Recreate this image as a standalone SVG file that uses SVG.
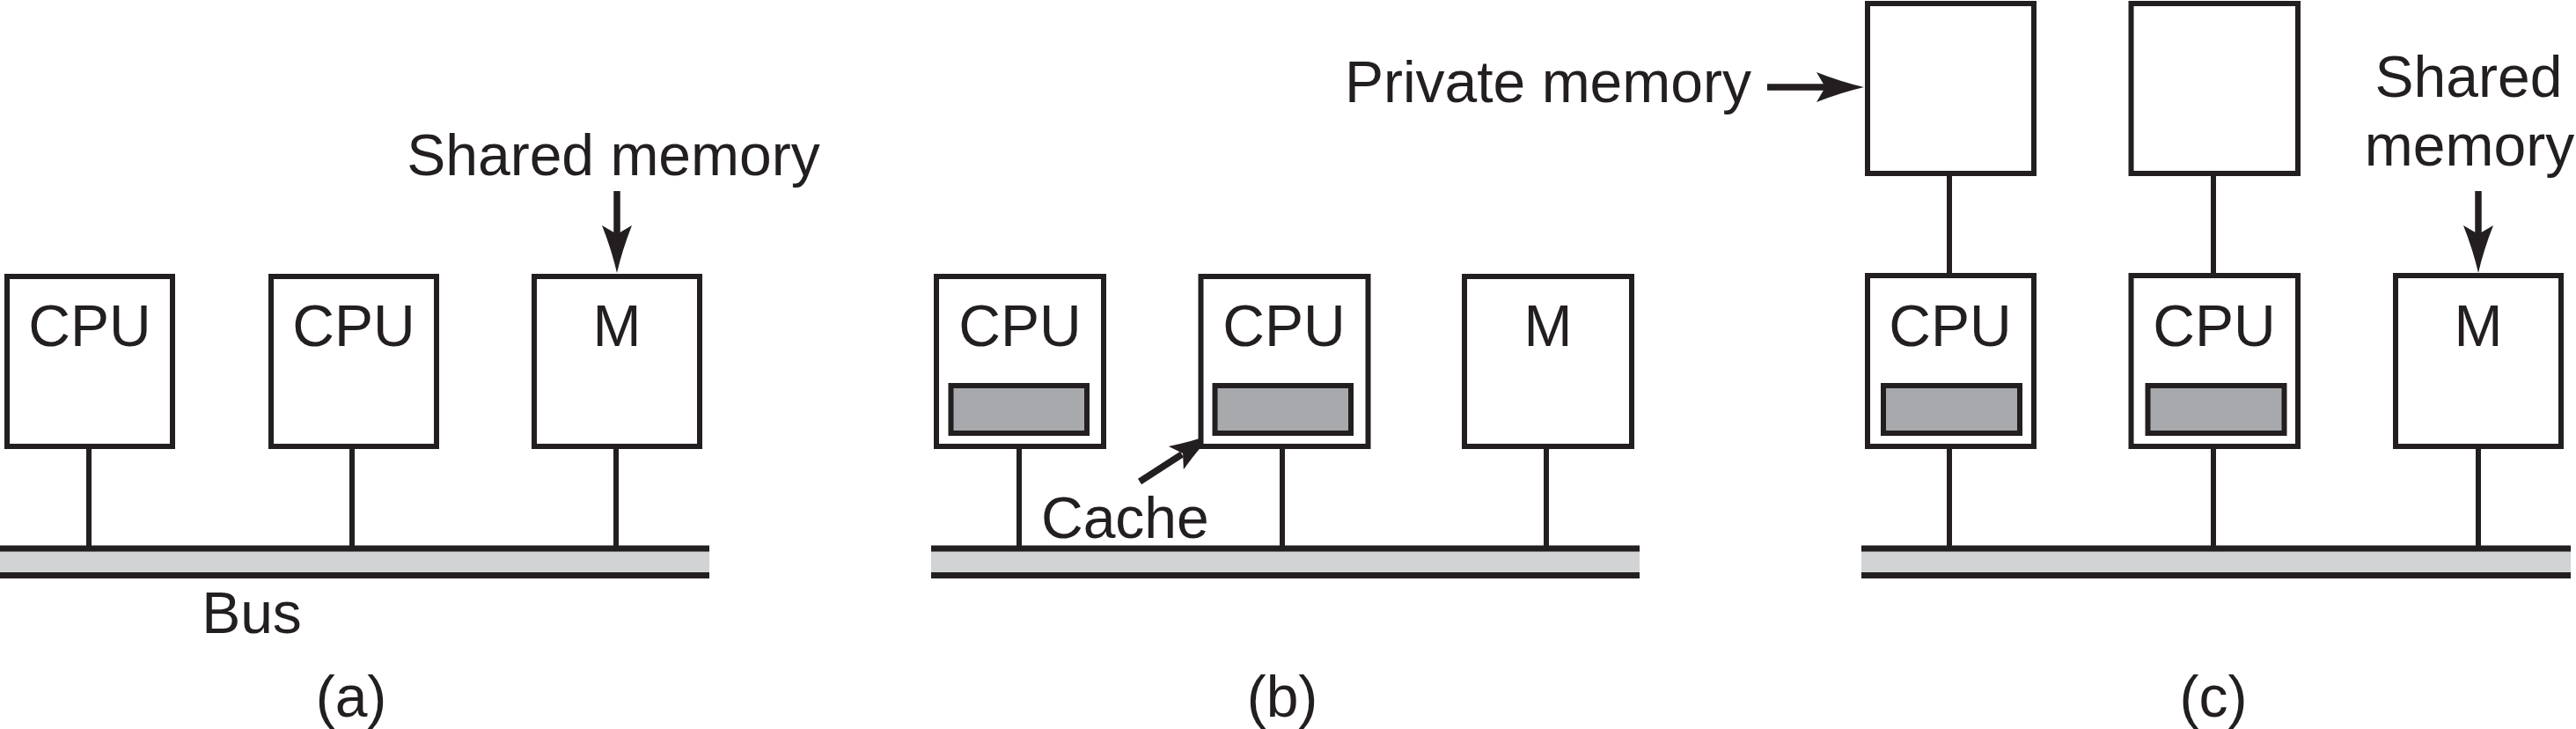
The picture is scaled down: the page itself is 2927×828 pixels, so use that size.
<svg xmlns="http://www.w3.org/2000/svg" xmlns:xlink="http://www.w3.org/1999/xlink" width="2927" height="828" viewBox="0 0 2927 828">
<style>
.box{fill:#fff;stroke:#231f20;stroke-width:6}
.cache{fill:#a7a9ac;stroke:#231f20;stroke-width:6}
.ln{stroke:#231f20;stroke-width:6;fill:none}
.arr{stroke:#231f20;stroke-width:7.5;fill:none}
.busfill{fill:#d1d3d4}
.busln{stroke:#231f20;stroke-width:7}
.t{font-family:"Liberation Sans",Arial,Helvetica,sans-serif;font-size:66px;fill:#231f20}
.c{text-anchor:middle}
.head{fill:#231f20}
</style>
<defs>
<path id="ah" d="M0,0 Q-26,-6 -54,-17 L-44,0 L-54,17 Q-26,6 0,0 Z"/>
</defs>
<rect width="2927" height="828" fill="#fff"/>

<g id="buses">
<rect class="busfill" x="0" y="623" width="806" height="31"/>
<line class="busln" x1="0" y1="623" x2="806" y2="623"/>
<line class="busln" x1="0" y1="653.5" x2="806" y2="653.5"/>
<rect class="busfill" x="1058" y="623" width="805" height="31"/>
<line class="busln" x1="1058" y1="623" x2="1863" y2="623"/>
<line class="busln" x1="1058" y1="653.5" x2="1863" y2="653.5"/>
<rect class="busfill" x="2115" y="623" width="806" height="31"/>
<line class="busln" x1="2115" y1="623" x2="2921" y2="623"/>
<line class="busln" x1="2115" y1="653.5" x2="2921" y2="653.5"/>
</g>

<g id="connectors">
<line class="ln" x1="101" y1="510" x2="101" y2="621"/>
<line class="ln" x1="400" y1="510" x2="400" y2="621"/>
<line class="ln" x1="700" y1="510" x2="700" y2="621"/>
<line class="ln" x1="1158" y1="510" x2="1158" y2="621"/>
<line class="ln" x1="1457" y1="510" x2="1457" y2="621"/>
<line class="ln" x1="1757" y1="510" x2="1757" y2="621"/>
<line class="ln" x1="2215" y1="510" x2="2215" y2="621"/>
<line class="ln" x1="2515" y1="510" x2="2515" y2="621"/>
<line class="ln" x1="2816" y1="510" x2="2816" y2="621"/>
<line class="ln" x1="2215" y1="198" x2="2215" y2="312"/>
<line class="ln" x1="2515" y1="198" x2="2515" y2="312"/>
<g id="arrow-shared-a">
<line class="arr" x1="701" y1="217" x2="701" y2="270"/>
<use xlink:href="#ah" class="head" transform="translate(701,310) rotate(90)"/>
</g>
<g id="arrow-cache">
<line class="arr" x1="1295" y1="547" x2="1343" y2="516"/>
<use xlink:href="#ah" class="head" transform="translate(1378,493) rotate(-33) scale(0.92)"/>
</g>
<g id="arrow-private">
<line class="arr" x1="2008" y1="99" x2="2078" y2="99"/>
<use xlink:href="#ah" class="head" transform="translate(2118,99)"/>
</g>
<g id="arrow-shared-c">
<line class="arr" x1="2816" y1="217" x2="2816" y2="270"/>
<use xlink:href="#ah" class="head" transform="translate(2816,310) rotate(90)"/>
</g>
</g>

<g id="a-cpu1"><rect class="box" x="8" y="314" width="188" height="193"/><text class="t c" x="102" y="393">CPU</text></g>
<g id="a-cpu2"><rect class="box" x="308" y="314" width="188" height="193"/><text class="t c" x="402" y="393">CPU</text></g>
<g id="a-mem"><rect class="box" x="607" y="314" width="188" height="193"/><text class="t c" x="701" y="393">M</text></g>

<g id="b-cpu1"><rect class="box" x="1064" y="314" width="190" height="193"/><text class="t c" x="1159" y="393">CPU</text><rect class="cache" x="1080.5" y="438" width="154.5" height="54"/></g>
<g id="b-cpu2"><rect class="box" x="1364.5" y="314" width="190" height="193"/><text class="t c" x="1459" y="393">CPU</text><rect class="cache" x="1380.5" y="438" width="154.5" height="54"/></g>
<g id="b-mem"><rect class="box" x="1664" y="314" width="190" height="193"/><text class="t c" x="1759" y="393">M</text></g>

<g id="c-priv1"><rect class="box" x="2122" y="4" width="189" height="193"/></g>
<g id="c-priv2"><rect class="box" x="2421.5" y="4" width="189.5" height="193"/></g>
<g id="c-cpu1"><rect class="box" x="2122" y="313" width="189" height="194"/><text class="t c" x="2216" y="393">CPU</text><rect class="cache" x="2140" y="438" width="155" height="54"/></g>
<g id="c-cpu2"><rect class="box" x="2421.5" y="313" width="189.5" height="194"/><text class="t c" x="2516" y="393">CPU</text><rect class="cache" x="2440.5" y="438" width="155" height="54"/></g>
<g id="c-mem"><rect class="box" x="2722" y="313" width="188" height="194"/><text class="t c" x="2816" y="393">M</text></g>

<g id="labels">
<text class="t c" x="697" y="199">Shared memory</text>
<text class="t c" x="286" y="719">Bus</text>
<text class="t" x="1183" y="611">Cache</text>
<text class="t" x="1990" y="116" text-anchor="end">Private memory</text>
<text class="t c" x="2805" y="110">Shared</text>
<text class="t c" x="2806" y="188">memory</text>
<text class="t c" x="399" y="814">(a)</text>
<text class="t c" x="1457" y="814">(b)</text>
<text class="t c" x="2515" y="814">(c)</text>
</g>
</svg>
